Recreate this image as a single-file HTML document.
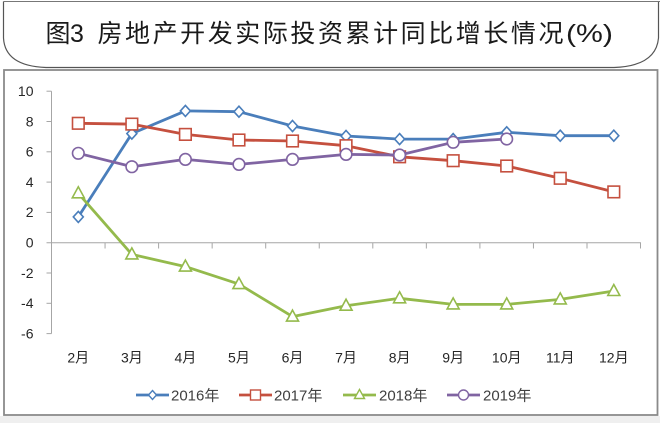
<!DOCTYPE html>
<html>
<head>
<meta charset="utf-8">
<style>
  html,body{margin:0;padding:0;background:#fff;}
  body{width:660px;height:423px;overflow:hidden;}
  svg{display:block;}
  .ax{font-family:"Liberation Sans","Noto Sans CJK SC",sans-serif;font-size:14px;fill:#262626;}
  .lg{font-family:"Liberation Sans","Noto Sans CJK SC",sans-serif;font-size:15px;fill:#404040;}
  .tt{font-family:"Liberation Sans","Noto Sans CJK SC",sans-serif;font-size:25px;fill:#1a1a1a;}
</style>
</head>
<body>
<svg width="660" height="423" viewBox="0 0 660 423" xmlns="http://www.w3.org/2000/svg">
  <rect x="0" y="0" width="660" height="423" fill="#fff"/>
  <!-- title box -->
  <path d="M3.5,1.5 L3.5,38 Q5,66 46,67.5 L614,67.5 Q656,66 658.5,38 L658.5,1.5" fill="none" stroke="#555" stroke-width="1.2"/>
  <line x1="3.5" y1="1.5" x2="660" y2="1.5" stroke="#777" stroke-width="1"/>
  <!-- title text -->
  <text class="tt" x="45.5" y="42">图</text>
  <text class="tt" x="70" y="42" style="font-family:'Liberation Sans',sans-serif">3</text>
  <text class="tt" x="97.5" y="42" textLength="466" lengthAdjust="spacing">房地产开发实际投资累计同比增长情况</text>
  <text class="tt" x="566" y="42" textLength="47" lengthAdjust="spacingAndGlyphs" style="font-family:'Liberation Sans',sans-serif">(%)</text>

  <!-- chart box -->
  <rect x="0" y="416" width="660" height="7" fill="#efefef"/>
  <rect x="4" y="70" width="653.5" height="345" fill="#fff" stroke="#8a8a8a" stroke-width="1.8"/>

  <!-- axes -->
  <g stroke="#a6a6a6" stroke-width="1" fill="none">
    <line x1="51.5" y1="91.2" x2="51.5" y2="333.6"/>
    <line x1="46.5" y1="91.2" x2="51.5" y2="91.2"/>
    <line x1="46.5" y1="121.5" x2="51.5" y2="121.5"/>
    <line x1="46.5" y1="151.8" x2="51.5" y2="151.8"/>
    <line x1="46.5" y1="182.1" x2="51.5" y2="182.1"/>
    <line x1="46.5" y1="212.4" x2="51.5" y2="212.4"/>
    <line x1="46.5" y1="273" x2="51.5" y2="273"/>
    <line x1="46.5" y1="303.3" x2="51.5" y2="303.3"/>
    <line x1="46.5" y1="333.6" x2="51.5" y2="333.6"/>
    <line x1="46.5" y1="242.7" x2="641" y2="242.7"/>
    <line x1="105.05" y1="242.7" x2="105.05" y2="248.5"/>
    <line x1="158.6" y1="242.7" x2="158.6" y2="248.5"/>
    <line x1="212.15" y1="242.7" x2="212.15" y2="248.5"/>
    <line x1="265.7" y1="242.7" x2="265.7" y2="248.5"/>
    <line x1="319.25" y1="242.7" x2="319.25" y2="248.5"/>
    <line x1="372.8" y1="242.7" x2="372.8" y2="248.5"/>
    <line x1="426.35" y1="242.7" x2="426.35" y2="248.5"/>
    <line x1="479.9" y1="242.7" x2="479.9" y2="248.5"/>
    <line x1="533.45" y1="242.7" x2="533.45" y2="248.5"/>
    <line x1="587" y1="242.7" x2="587" y2="248.5"/>
    <line x1="640.5" y1="242.7" x2="640.5" y2="248.5"/>
  </g>

  <!-- y labels -->
  <g class="ax" text-anchor="end">
    <text x="33.5" y="96">10</text>
    <text x="33.5" y="126.3">8</text>
    <text x="33.5" y="156.6">6</text>
    <text x="33.5" y="186.9">4</text>
    <text x="33.5" y="217.2">2</text>
    <text x="33.5" y="247.5">0</text>
    <text x="33.5" y="277.8">-2</text>
    <text x="33.5" y="308.1">-4</text>
    <text x="33.5" y="338.4">-6</text>
  </g>
  <!-- x labels -->
  <g class="ax" text-anchor="middle">
    <text x="78.3" y="362.5">2月</text>
    <text x="131.85" y="362.5">3月</text>
    <text x="185.4" y="362.5">4月</text>
    <text x="238.95" y="362.5">5月</text>
    <text x="292.5" y="362.5">6月</text>
    <text x="346.05" y="362.5">7月</text>
    <text x="399.6" y="362.5">8月</text>
    <text x="453.15" y="362.5">9月</text>
    <text x="506.7" y="362.5">10月</text>
    <text x="560.25" y="362.5">11月</text>
    <text x="613.8" y="362.5">12月</text>
  </g>

  <defs>
    <path id="dia" d="M0,-5.5 L5,0 L0,5.5 L-5,0 Z" fill="#fff" stroke="#4a7ebb" stroke-width="1.6"/>
    <rect id="sq" x="-5.8" y="-5.8" width="11.6" height="11.6" fill="#fff" stroke="#c5503f" stroke-width="1.6"/>
    <path id="tri" d="M0,-6.5 L6,4.5 L-6,4.5 Z" fill="#fff" stroke="#94ba4c" stroke-width="1.6"/>
    <circle id="cir" r="5.8" fill="#fff" stroke="#8064a2" stroke-width="1.6"/>
  </defs>

  <!-- 2016 -->
  <polyline fill="none" stroke="#4a7ebb" stroke-width="2.8" stroke-linejoin="round"
    points="78.3,216.9 131.85,133.6 185.4,110.9 238.95,111.7 292.5,126 346.05,136 399.6,139.1 453.15,139.1 506.7,132.3 560.25,135.7 613.8,135.7"/>
  <g>
    <use href="#dia" x="78.3" y="216.9"/><use href="#dia" x="131.85" y="133.6"/><use href="#dia" x="185.4" y="110.9"/>
    <use href="#dia" x="238.95" y="111.7"/><use href="#dia" x="292.5" y="126"/><use href="#dia" x="346.05" y="136"/>
    <use href="#dia" x="399.6" y="139.1"/><use href="#dia" x="453.15" y="139.1"/><use href="#dia" x="506.7" y="132.3"/>
    <use href="#dia" x="560.25" y="135.7"/><use href="#dia" x="613.8" y="135.7"/>
  </g>
  <!-- 2017 -->
  <polyline fill="none" stroke="#c5503f" stroke-width="2.8" stroke-linejoin="round"
    points="78.3,123.3 131.85,124.1 185.4,134.4 238.95,140 292.5,141 346.05,145.7 399.6,156.8 453.15,160.7 506.7,166 560.25,178.3 613.8,191.9"/>
  <g>
    <use href="#sq" x="78.3" y="123.3"/><use href="#sq" x="131.85" y="124.1"/><use href="#sq" x="185.4" y="134.4"/>
    <use href="#sq" x="238.95" y="140"/><use href="#sq" x="292.5" y="141"/><use href="#sq" x="346.05" y="145.7"/>
    <use href="#sq" x="399.6" y="156.8"/><use href="#sq" x="453.15" y="160.7"/><use href="#sq" x="506.7" y="166"/>
    <use href="#sq" x="560.25" y="178.3"/><use href="#sq" x="613.8" y="191.9"/>
  </g>
  <!-- 2018 -->
  <polyline fill="none" stroke="#94ba4c" stroke-width="2.8" stroke-linejoin="round"
    points="78.3,193.3 131.85,254.4 185.4,266.6 238.95,284.1 292.5,316.6 346.05,305.7 399.6,298.3 453.15,304.4 506.7,304.4 560.25,299.4 613.8,291"/>
  <g>
    <use href="#tri" x="78.3" y="193.3"/><use href="#tri" x="131.85" y="254.4"/><use href="#tri" x="185.4" y="266.6"/>
    <use href="#tri" x="238.95" y="284.1"/><use href="#tri" x="292.5" y="316.6"/><use href="#tri" x="346.05" y="305.7"/>
    <use href="#tri" x="399.6" y="298.3"/><use href="#tri" x="453.15" y="304.4"/><use href="#tri" x="506.7" y="304.4"/>
    <use href="#tri" x="560.25" y="299.4"/><use href="#tri" x="613.8" y="291"/>
  </g>
  <!-- 2019 -->
  <polyline fill="none" stroke="#8064a2" stroke-width="2.8" stroke-linejoin="round"
    points="78.3,153.3 131.85,166.7 185.4,159.4 238.95,164.4 292.5,159.4 346.05,154.4 399.6,155 453.15,142.3 506.7,139"/>
  <g>
    <use href="#cir" x="78.3" y="153.3"/><use href="#cir" x="131.85" y="166.7"/><use href="#cir" x="185.4" y="159.4"/>
    <use href="#cir" x="238.95" y="164.4"/><use href="#cir" x="292.5" y="159.4"/><use href="#cir" x="346.05" y="154.4"/>
    <use href="#cir" x="399.6" y="155"/><use href="#cir" x="453.15" y="142.3"/><use href="#cir" x="506.7" y="139"/>
  </g>

  <!-- legend -->
  <g>
    <line x1="136" y1="395" x2="169" y2="395" stroke="#4a7ebb" stroke-width="2.8"/>
    <path d="M152.5,390.5 L156.5,395 L152.5,399.5 L148.5,395 Z" fill="#fff" stroke="#4a7ebb" stroke-width="1.4"/>
    <text class="lg" x="171" y="400.5">2016年</text>

    <line x1="239" y1="395" x2="272" y2="395" stroke="#c5503f" stroke-width="2.8"/>
    <rect x="250.5" y="390" width="10" height="10" fill="#fff" stroke="#c5503f" stroke-width="1.4"/>
    <text class="lg" x="274" y="400.5">2017年</text>

    <line x1="343" y1="395" x2="376" y2="395" stroke="#94ba4c" stroke-width="2.8"/>
    <path d="M359.5,389.5 L364.5,398.5 L354.5,398.5 Z" fill="#fff" stroke="#94ba4c" stroke-width="1.4"/>
    <text class="lg" x="379" y="400.5">2018年</text>

    <line x1="447" y1="395" x2="480" y2="395" stroke="#8064a2" stroke-width="2.8"/>
    <circle cx="463.5" cy="395" r="5" fill="#fff" stroke="#8064a2" stroke-width="1.4"/>
    <text class="lg" x="483" y="400.5">2019年</text>
  </g>
</svg>
</body>
</html>
